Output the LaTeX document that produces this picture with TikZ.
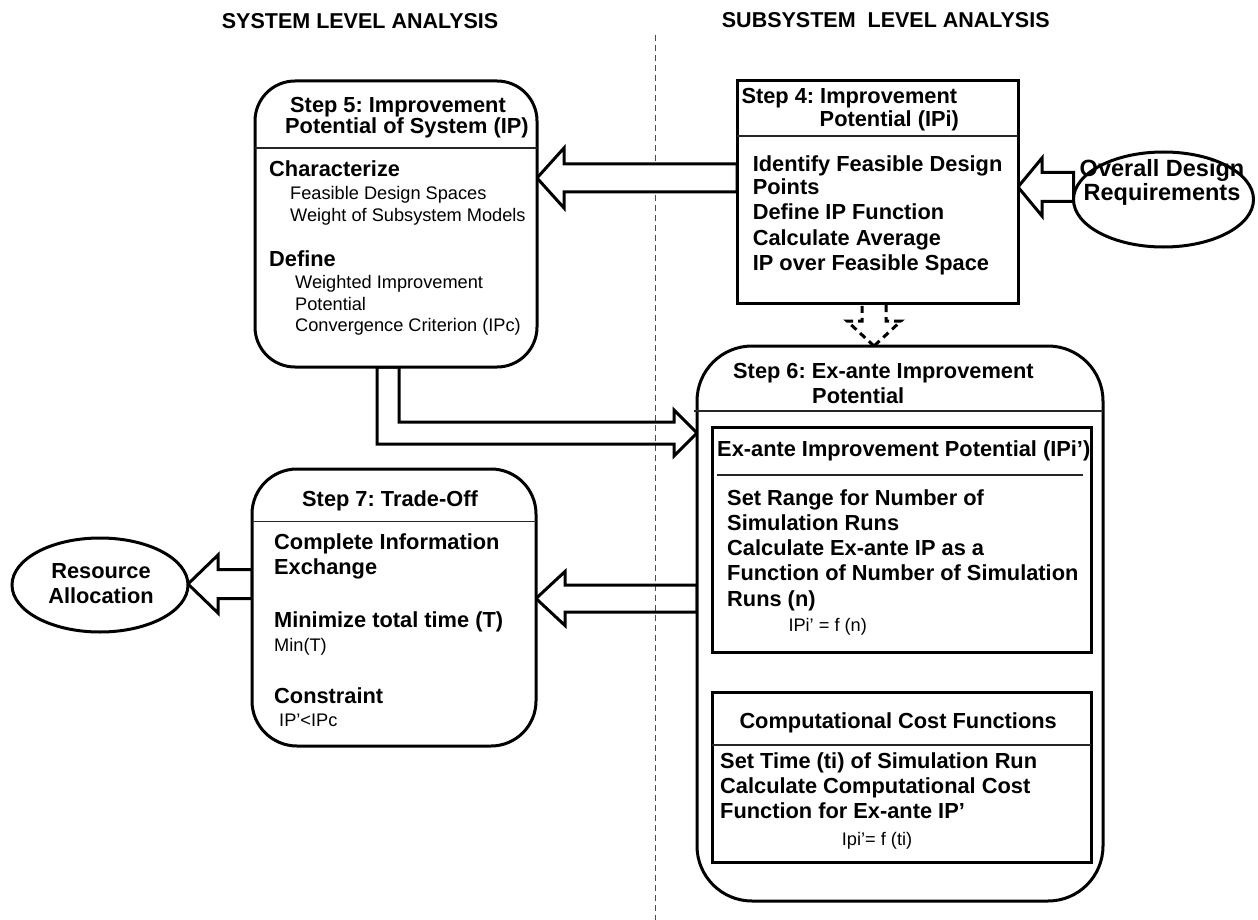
\documentclass[tikz,border=0pt]{standalone}
\usepackage{fontspec}
\setmainfont{Liberation Sans}
\usetikzlibrary{calc,shapes.geometric}
\frenchspacing
\pgfdeclarelayer{divider}
\pgfdeclarelayer{arrows}
\pgfsetlayers{divider,arrows,main}

\tikzset{
  box/.style={draw, line width=3pt, fill=white, rectangle, inner sep=0pt, outer sep=0pt},
  oval/.style={draw, line width=3pt, fill=white, ellipse, inner sep=0pt, outer sep=0pt},
  sep/.style={line width=1.3pt, black!85},
  blk/.style={draw, line width=3pt, line join=miter},
  hd/.style={anchor=base west, inner sep=0pt, font=\fontsize{21.5}{24}\selectfont\bfseries},
  bt/.style={anchor=base west, inner sep=0pt, font=\fontsize{21.8}{25}\selectfont\bfseries},
  rt/.style={anchor=base west, inner sep=0pt, font=\fontsize{18.2}{21}\selectfont},
  btc/.style={bt, anchor=base},
  ovt/.style={anchor=base, inner sep=0pt, font=\fontsize{23.5}{26}\selectfont\bfseries},
}

% horizontal block arrow pointing left: [options]{tip}{tail}{shaft half}{head half}{head length}
\newcommand{\leftblockarrow}[6][]{%
  \draw[blk,#1] (#2) -- ($(#2)+(#6,-#5)$) -- ($(#2)+(#6,-#4)$) -- ($(#3)+(0,-#4)$)
    -- ($(#3)+(0,#4)$) -- ($(#2)+(#6,#4)$) -- ($(#2)+(#6,#5)$) -- cycle;}
% vertical block arrow pointing down
\newcommand{\downblockarrow}[6][]{%
  \draw[blk,#1] (#2) -- ($(#2)+(-#5,-#6)$) -- ($(#2)+(-#4,-#6)$) -- ($(#3)+(-#4,0)$)
    -- ($(#3)+(#4,0)$) -- ($(#2)+(#4,-#6)$) -- ($(#2)+(#5,-#6)$) -- cycle;}

\begin{document}
\begin{tikzpicture}[x=1pt,y=-1pt]
\useasboundingbox (0,0) rectangle (1258,920);

% column headings and divider
\node[hd] (hsys) at (221.7,28.3) {SYSTEM LEVEL ANALYSIS};
\node[hd] (hsub) at (721.7,27.3) {SUBSYSTEM\ \ LEVEL ANALYSIS};
\begin{pgfonlayer}{divider}
  \draw[dashed, dash pattern=on 6pt off 4pt, line width=1pt, black!70] (655,35) -- (655,920);
\end{pgfonlayer}

% boxes
\node[box, rounded corners=40pt, minimum width=282pt, minimum height=286pt] (s5) at (396,224) {};
\node[box, minimum width=281pt, minimum height=222pt] (s4) at (877.5,192) {};
\node[box, rounded corners=55pt, minimum width=406pt, minimum height=555pt] (s6) at (900,623.5) {};
\node[box, minimum width=379pt, minimum height=225pt] (in1) at (901.5,539.5) {};
\node[box, minimum width=379pt, minimum height=170pt] (in2) at (901.5,777) {};
\node[box, rounded corners=45pt, minimum width=284pt, minimum height=277pt] (s7) at (394,607.5) {};
\node[oval, minimum width=180pt, minimum height=95pt] (ov) at (1163.5,199.5) {};
\node[oval, minimum width=176pt, minimum height=94pt] (res) at (100,585) {};

% separators under the box titles
\draw[sep] (s5.west |- 0,148) -- (s5.east |- 0,148);
\draw[sep] (s4.west |- 0,136) -- (s4.east |- 0,136);
\draw[sep] ($(s6.west |- 0,411)+(-3,0)$) -- (s6.east |- 0,411);
\draw[sep] (717,475) -- (1083,475);
\draw[sep] (in2.west |- 0,745) -- (in2.east |- 0,745);
\draw[sep] (s7.west |- 0,521.7) -- (s7.east |- 0,521.7);

% Step 5
\node[bt] (s5a) at (290,112.7) {Step 5: Improvement};
\node[bt] (s5b) at (285,133.3) {Potential of System (IP)};
\node[bt] (s5c) at (269,177) {Characterize};
\node[rt] (s5d) at (290,200) {Feasible Design Spaces};
\node[rt] (s5e) at (290,221.7) {Weight of Subsystem Models};
\node[bt] (s5f) at (269,266.7) {Define};
\node[rt] (s5g) at (295,288.3) {Weighted Improvement};
\node[rt] (s5h) at (295,310) {Potential};
\node[rt] (s5i) at (295,331.7) {Convergence Criterion (IPc)};

% Step 4
\node[bt] (s4a) at (741.3,103.3) {Step 4: Improvement};
\node[bt] (s4b) at (819.5,126.7) {Potential (IPi)};
\node[bt] (s4c) at (752.6,171.7) {Identify Feasible Design};
\node[bt] (s4d) at (752.6,195) {Points};
\node[bt] (s4e) at (752.6,220) {Define IP Function};
\node[bt] (s4f) at (752.6,245) {Calculate Average};
\node[bt] (s4g) at (752.6,270.7) {IP over Feasible Space};

% design requirements
\node[ovt] (ova) at (1162,177) {Overall Design};
\node[ovt] (ovb) at (1162,201) {Requirements};

% Step 6
\node[bt] (s6a) at (733,378.3) {Step 6: Ex-ante Improvement};
\node[bt] (s6b) at (812,403.3) {Potential};
\node[bt] (i1a) at (717,456.7) {Ex-ante Improvement Potential (IPi’)};
\node[bt] (i1b) at (727,505) {Set Range for Number of};
\node[bt] (i1c) at (727,530) {Simulation Runs};
\node[bt] (i1d) at (727,555) {Calculate Ex-ante IP as a};
\node[bt] (i1e) at (727,580.7) {Function of Number of Simulation};
\node[bt] (i1f) at (727,606.7) {Runs (n)};
\node[rt] (i1g) at (788.3,631.7) {IPi’ = f (n)};
\node[bt] (i2a) at (739.3,728.3) {Computational Cost Functions};
\node[bt] (i2b) at (720,768.3) {Set Time (ti) of Simulation Run};
\node[bt] (i2c) at (720,793.3) {Calculate Computational Cost};
\node[bt] (i2d) at (720,818.3) {Function for Ex-ante IP’};
\node[rt] (i2e) at (841.7,845) {Ipi’= f (ti)};

% Step 7
\node[bt] (s7a) at (302,506.7) {Step 7: Trade-Off};
\node[bt] (s7b) at (274,549.3) {Complete Information};
\node[bt] (s7c) at (274,574) {Exchange};
\node[bt] (s7d) at (274,627) {Minimize total time (T)};
\node[rt] (s7e) at (274,651) {Min(T)};
\node[bt] (s7f) at (274,703) {Constraint};
\node[rt] (s7g) at (279,726) {IP’<IPc};

% resource allocation
\node[btc] (resa) at (101,578.3) {Resource};
\node[btc] (resb) at (101,603.3) {Allocation};

% block arrows
\begin{pgfonlayer}{arrows}
  \leftblockarrow[fill=white]{s5.east |- 0,178}{s4.west |- 0,178}{14}{30}{27}
  \leftblockarrow{s4.east |- 0,187}{ov.west |- 0,187}{14.5}{29}{24}
  \leftblockarrow{s7.east |- 0,598.5}{s6.west |- 0,598.5}{13.5}{27}{29}
  \leftblockarrow{res.east |- 0,584}{s7.west |- 0,584}{14.5}{29}{30}
  \downblockarrow[fill=white, dash pattern=on 7pt off 5pt]{874,0 |- s6.north}{874,0 |- s4.south}{12}{27}{25}
  \downblockarrow{881.5,0 |- in2.north}{881.5,0 |- in1.south}{10.5}{22}{19}
  \coordinate (t56) at (s6.west |- 0,433);
  \draw[blk] (377,0 |- s5.south) -- (377,444) -- ($(t56)+(-23,11)$) -- ($(t56)+(-23,23)$)
    -- (t56) -- ($(t56)+(-23,-23)$) -- ($(t56)+(-23,-11)$) -- (399,422)
    -- (399,0 |- s5.south) -- cycle;
\end{pgfonlayer}
\end{tikzpicture}
\end{document}
